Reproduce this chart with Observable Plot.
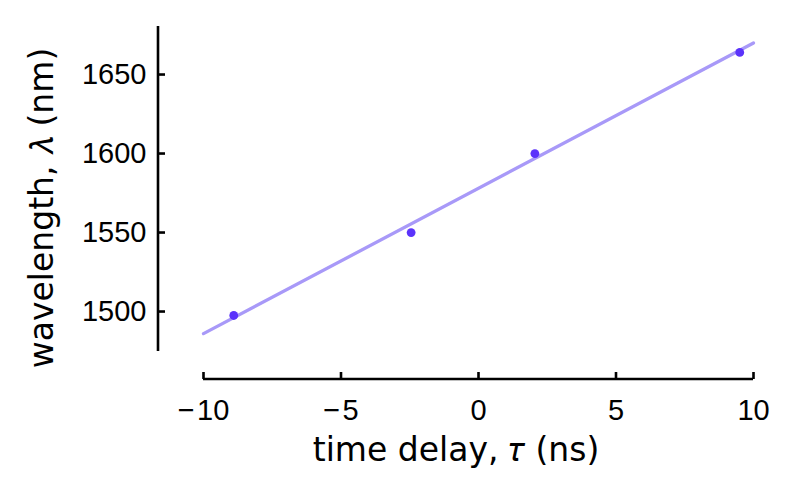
<!DOCTYPE html>
<html>
<head>
<meta charset="utf-8">
<script src="https://cdn.jsdelivr.net/npm/d3@7"></script>
<script src="https://cdn.jsdelivr.net/npm/@observablehq/plot@0.6"></script>
<style>
  html, body { margin: 0; padding: 0; background: #fff; }
  #chart svg { display: block; }
</style>
</head>
<body>
<div id="chart"></div>
<script>
// Measured points
const delay = [-8.9, -2.45, 2.05, 9.5];          // τ (ns)
const wavelength = [1497.5, 1550, 1600, 1664];   // λ (nm)
// Linear fit line end points
const fitDelay = [-10, 10];
const fitWavelength = [1486, 1670];
// Ticks
const xTicks = [-10, -5, 0, 5, 10];
const yTicks = [1500, 1550, 1600, 1650];
const xDomain = [-10, 10];
const yDomain = [1474.7, 1680.4];
const xLabel = "time delay, \u{1D70F} (ns)";
const yLabel = "wavelength, \u{1D706} (nm)";

const points = delay.map((d, i) => ({x: d, y: wavelength[i]}));
const fit = fitDelay.map((d, i) => ({x: d, y: fitWavelength[i]}));

const tickFont = "Liberation Sans, Arial, sans-serif";
const labelFont = "DejaVu Sans, sans-serif";
const fmtX = d => (d < 0 ? "\u2212\u200A" : "") + Math.abs(d);

const spines = (index, scales, values, dims) => {
  const g = d3.create("svg:g").attr("stroke", "#000").attr("stroke-width", 2.6).attr("fill", "none");
  const xl = dims.marginLeft;
  g.append("line")
    .attr("x1", xl).attr("x2", xl)
    .attr("y1", scales.y(yDomain[1])).attr("y2", scales.y(yDomain[0]));
  const yb = dims.height - dims.marginBottom;
  g.append("line")
    .attr("y1", yb).attr("y2", yb)
    .attr("x1", scales.x(xDomain[0])).attr("x2", scales.x(xDomain[1]));
  return g.node();
};

const chart = Plot.plot({
  width: 797,
  height: 494,
  marginLeft: 158,
  marginRight: 44,
  marginTop: 26,
  marginBottom: 115,
  style: {background: "#fff", fontFamily: tickFont},
  x: {domain: xDomain, range: [203, 753]},
  y: {domain: yDomain, range: [351, 26]},
  marks: [
    spines,
    Plot.axisX({ticks: xTicks, tickFormat: fmtX, tickSize: -7, tickPadding: 27, fontSize: 29, strokeWidth: 2.6, label: null, fontFamily: tickFont, fill: "#000"}),
    Plot.axisY({ticks: yTicks, tickFormat: "d", tickSize: -7, tickPadding: 19, fontSize: 29, strokeWidth: 2.6, label: null, fontFamily: tickFont, fill: "#000"}),
    Plot.line(fit, {x: "x", y: "y", stroke: "#a899f8", strokeWidth: 3.3}),
    Plot.dot(points, {x: "x", y: "y", r: 4.4, fill: "#5b33fb", stroke: "none"}),
    Plot.text([xLabel], {frameAnchor: "bottom", dy: 71, text: d => d, fontSize: 33, fontFamily: labelFont, fill: "#000", textAnchor: "middle", lineAnchor: "middle"}),
    Plot.text([yLabel], {frameAnchor: "left", dx: -116, dy: 5, rotate: -90, text: d => d, fontSize: 33, fontFamily: labelFont, fill: "#000", textAnchor: "middle", lineAnchor: "middle"})
  ]
});
document.getElementById("chart").appendChild(chart);
</script>
</body>
</html>
